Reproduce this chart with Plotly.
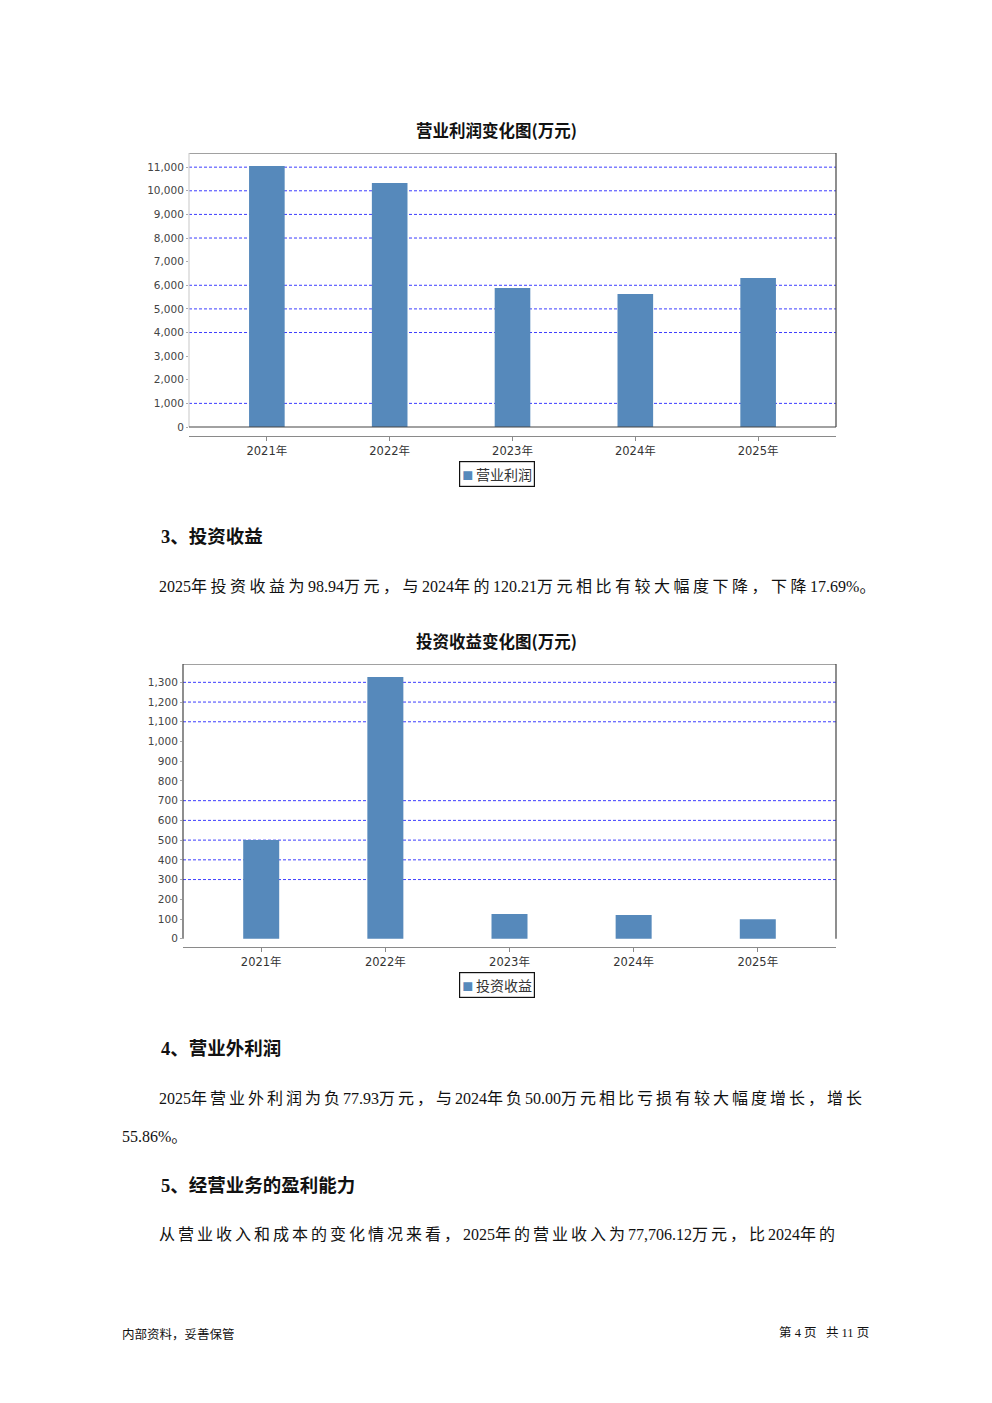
import re
import plotly.graph_objects as go

# ---------------- data ----------------
YEARS = ["2021年", "2022年", "2023年", "2024年", "2025年"]
OP_PROFIT = [11050, 10330, 5885, 5630, 6310]          # 营业利润 (万元)
INV_INCOME = [500, 1327, 125, 120.21, 98.94]          # 投资收益 (万元)

Y1_TICKS = [0, 1000, 2000, 3000, 4000, 5000, 6000, 7000, 8000, 9000, 10000, 11000]
Y1_GRID = [1000, 4000, 5000, 6000, 8000, 9000, 10000, 11000]
Y2_TICKS = [0, 100, 200, 300, 400, 500, 600, 700, 800, 900, 1000, 1100, 1200, 1300]
Y2_GRID = [300, 400, 500, 600, 700, 1100, 1200, 1300]

TITLE1 = "营业利润变化图(万元)"
TITLE2 = "投资收益变化图(万元)"
LEGEND1 = "营业利润"
LEGEND2 = "投资收益"

HEAD3 = "3、投资收益"
BODY3 = "2025年投资收益为98.94万元，与2024年的120.21万元相比有较大幅度下降，下降17.69%。"
HEAD4 = "4、营业外利润"
BODY4A = "2025年营业外利润为负77.93万元，与2024年负50.00万元相比亏损有较大幅度增长，增长"
BODY4B = "55.86%。"
HEAD5 = "5、经营业务的盈利能力"
BODY5 = "从营业收入和成本的变化情况来看，2025年的营业收入为77,706.12万元，比2024年的"
FOOT_L = "内部资料，妥善保管"
FOOT_R = "第\u00a04\u00a0页\u00a0\u00a0\u00a0共\u00a011\u00a0页"

# ---------------- style ----------------
W, H = 992, 1403
BAR_COLOR = "#5689bb"
GRID_COLOR = "#3d3dff"
FRAME_DARK = "#444444"
FRAME_LIGHT = "#d0d0d0"
AXIS_FONT = "DejaVu Sans, Noto Sans CJK SC"
CJK_SANS = "Noto Sans CJK SC"
SERIF = "Liberation Serif, Noto Sans CJK SC"


def fx(p):
    return p / W


def fy(p):
    return 1 - p / H


def spaced(s, sp):
    return re.sub(r"([\u3000-\u303f\u4e00-\u9fff\uff00-\uffef]+)",
                  lambda m: "<span style='letter-spacing:%.1fpx'>%s</span>" % (sp, m.group(1)), s)


fig = go.Figure()
fig.add_trace(go.Bar(x=YEARS, y=OP_PROFIT, name=LEGEND1, xaxis="x", yaxis="y",
                     marker=dict(color=BAR_COLOR, line=dict(width=0)), width=0.29,
                     showlegend=False))
fig.add_trace(go.Bar(x=YEARS, y=INV_INCOME, name=LEGEND2, xaxis="x2", yaxis="y2",
                     marker=dict(color=BAR_COLOR, line=dict(width=0)), width=0.29,
                     showlegend=False))

Y1_TOP = 11600
Y2_TOP = 1393

xcommon = dict(type="category", showline=True, linecolor="#8a8a8a", linewidth=1,
               ticks="outside", ticklen=4, tickcolor="#8a8a8a", showgrid=False,
               zeroline=False, tickfont=dict(family=AXIS_FONT, size=11.5, color="#333"),
               fixedrange=True)
ycommon = dict(showline=False, showgrid=False, zeroline=False, ticks="outside", ticklen=2,
               tickcolor="#aaaaaa", tickformat=",d",
               tickfont=dict(family=AXIS_FONT, size=10.5, color="#444"), fixedrange=True)

fig.update_layout(
    width=W, height=H, margin=dict(l=0, r=0, t=0, b=0),
    paper_bgcolor="white", plot_bgcolor="white", bargap=0.5,
    xaxis=dict(domain=[fx(189), fx(836)], anchor="y", range=[-0.634, 4.634], **xcommon),
    yaxis=dict(domain=[fy(436), fy(153)], anchor="x", range=[-381, Y1_TOP],
               tickvals=Y1_TICKS, **ycommon),
    xaxis2=dict(domain=[fx(183), fx(836)], anchor="y2", range=[-0.63, 4.63], **xcommon),
    yaxis2=dict(domain=[fy(947), fy(664)], anchor="x2", range=[-42, Y2_TOP],
                tickvals=Y2_TICKS, **ycommon),
)

shapes = []
for xr, yr, grid, top, left_col, bottom in (("x", "y", Y1_GRID, Y1_TOP, FRAME_LIGHT, True),
                                            ("x2", "y2", Y2_GRID, Y2_TOP, FRAME_DARK, False)):
    for v in grid:
        shapes.append(dict(type="line", xref=xr + " domain", yref=yr, x0=0, x1=1, y0=v, y1=v,
                           line=dict(color=GRID_COLOR, width=1, dash="3px,2px"), layer="below"))
    shapes.append(dict(type="line", xref=xr + " domain", yref=yr, x0=0, x1=1, y0=top, y1=top,
                       line=dict(color=FRAME_DARK, width=1.2)))
    shapes.append(dict(type="line", xref=xr + " domain", yref=yr, x0=1, x1=1, y0=0, y1=top,
                       line=dict(color=FRAME_DARK, width=1.2)))
    shapes.append(dict(type="line", xref=xr + " domain", yref=yr, x0=0, x1=0, y0=0, y1=top,
                       line=dict(color=left_col, width=1.2)))
    if bottom:
        shapes.append(dict(type="line", xref=xr + " domain", yref=yr, x0=0, x1=1, y0=0, y1=0,
                           line=dict(color=FRAME_DARK, width=1.2)))
fig.update_layout(shapes=shapes)

ann = []


def add_text(text, px, py, size, family, xanchor="left", color="#111", bold=False, **kw):
    t = "<b>%s</b>" % text if bold else text
    ann.append(dict(text=t, x=fx(px), y=fy(py), xref="paper", yref="paper",
                    xanchor=xanchor, yanchor="middle", showarrow=False,
                    font=dict(size=size, family=family, color=color), **kw))


# chart titles
add_text(TITLE1, 496, 130, 16.5, CJK_SANS, xanchor="center", bold=True)
add_text(TITLE2, 496, 641, 16.5, CJK_SANS, xanchor="center", bold=True)

# legends
for lab, py in ((LEGEND1, 473.5), (LEGEND2, 985)):
    add_text("<span style='font-size:11px;color:%s'>■</span>\u2009%s" % (BAR_COLOR, lab),
             496.5, py, 14, CJK_SANS, xanchor="center", color="#333",
             bordercolor="#111", borderwidth=1.2, borderpad=2)

# headings & body
add_text(HEAD3, 159, 537, 18.5, SERIF, bold=True)
add_text(spaced(BODY3, 3.5), 157, 586, 16, SERIF)
add_text(HEAD4, 159, 1048, 18.5, SERIF, bold=True)
add_text(spaced(BODY4A, 3.0), 157, 1098, 16, SERIF)
add_text(BODY4B, 120, 1136, 16, SERIF)
add_text(HEAD5, 159, 1185, 18.5, SERIF, bold=True)
add_text(spaced(BODY5, 3.0), 157, 1234, 16, SERIF)

# footer
add_text(FOOT_L, 120, 1333, 12.5, CJK_SANS)
add_text(FOOT_R, 871, 1333, 12.5, "Liberation Serif, Noto Sans CJK SC", xanchor="right")

fig.update_layout(annotations=ann)
fig.write_html("out.html", config={"displayModeBar": False},
               post_script="document.body.style.margin='0';document.body.style.padding='0';")
